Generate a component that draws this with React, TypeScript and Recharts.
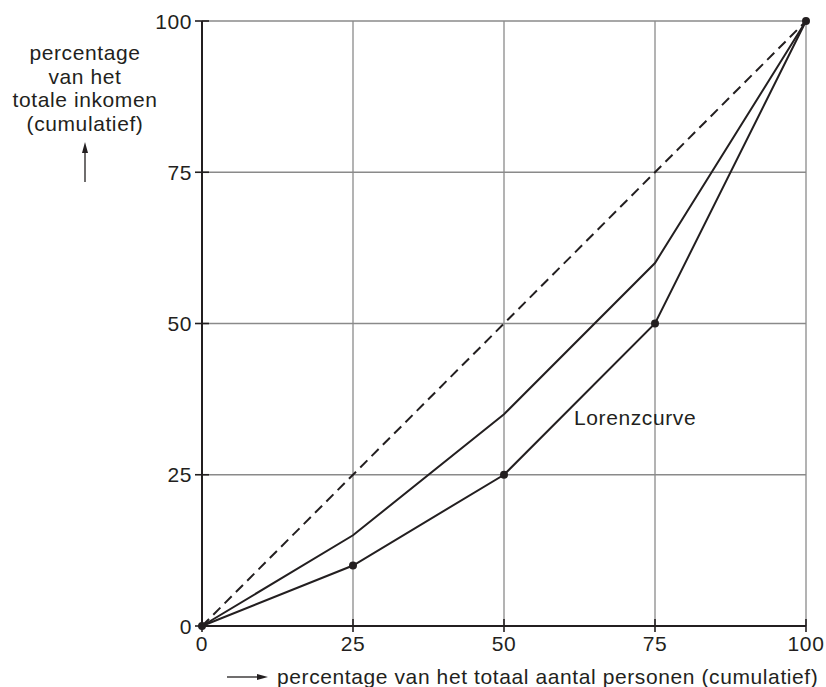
import React from "react";
import { LineChart, Line, XAxis, YAxis, CartesianGrid } from "recharts";

const persons = [0, 25, 50, 75, 100];
const equality = [0, 25, 50, 75, 100];
const upperCurve = [0, 15, 35, 60, 100];
const lorenzCurve = [0, 10, 25, 50, 100];
const ticks = [0, 25, 50, 75, 100];

const yLabelLines = ["percentage", "van het", "totale inkomen", "(cumulatief)"];
const xLabel = "percentage van het totaal aantal personen (cumulatief)";
const curveLabel = "Lorenzcurve";

const data = persons.map((p, i) => ({
  p,
  eq: equality[i],
  up: upperCurve[i],
  lz: lorenzCurve[i],
}));

const font = "'Liberation Sans', Arial, sans-serif";
const ink = "#231f20";
const fs = 21;
const ls = 0.6;

const YTick = (props: any) => {
  const { x, y, payload } = props;
  return (
    <g>
      <line x1={x - 7} x2={x + 7} y1={y} y2={y} stroke={ink} strokeWidth={1.6} />
      <text x={x - 10} y={y} dy="0.36em" textAnchor="end" fill={ink} fontSize={fs} fontFamily={font} letterSpacing={ls}>
        {payload.value}
      </text>
    </g>
  );
};

const XTick = (props: any) => {
  const { x, y, payload } = props;
  return (
    <g>
      <line x1={x} x2={x} y1={y - 7} y2={y + 6} stroke={ink} strokeWidth={1.6} />
      <text x={x} y={y + 24.5} textAnchor="middle" fill={ink} fontSize={fs} fontFamily={font} letterSpacing={ls}>
        {payload.value}
      </text>
    </g>
  );
};

export default function App() {
  return (
    <div style={{ position: "absolute", left: 0, top: 0, width: 826, height: 687, background: "#fff", fontFamily: font }}>
      <LineChart width={826} height={687} data={data} margin={{ top: 21, right: 20, left: 162, bottom: 31 }}>
        <CartesianGrid stroke="#8a8a8a" strokeWidth={1.3} horizontalValues={ticks} verticalValues={ticks} />
        <XAxis
          dataKey="p"
          type="number"
          domain={[0, 100]}
          ticks={ticks}
          height={30}
          tickSize={0}
          tickMargin={0}
          axisLine={{ stroke: ink, strokeWidth: 2 }}
          tickLine={false}
          tick={(p: any) => <XTick {...p} />}
        />
        <YAxis
          type="number"
          domain={[0, 100]}
          ticks={ticks}
          width={40}
          tickSize={0}
          tickMargin={0}
          axisLine={{ stroke: ink, strokeWidth: 2 }}
          tickLine={false}
          tick={(p: any) => <YTick {...p} />}
        />
        <Line dataKey="eq" stroke={ink} strokeWidth={2} strokeDasharray="10 6" dot={false} isAnimationActive={false} />
        <Line dataKey="up" stroke={ink} strokeWidth={2} dot={false} isAnimationActive={false} />
        <Line dataKey="lz" stroke={ink} strokeWidth={2} dot={{ r: 3, fill: ink, stroke: ink }} isAnimationActive={false} />
      </LineChart>
      <svg style={{ position: "absolute", left: 0, top: 0 }} width={826} height={687}>
        {yLabelLines.map((t, i) => (
          <text key={t} x={85} y={60 + i * 23.5} textAnchor="middle" fill={ink} fontSize={fs} fontFamily={font} letterSpacing={ls}>
            {t}
          </text>
        ))}
        <line x1={85} y1={182} x2={85} y2={150} stroke={ink} strokeWidth={1.3} />
        <polygon points="85,142 82,153 88,153" fill={ink} />
        <line x1={227} y1={677} x2={259} y2={677} stroke={ink} strokeWidth={1.3} />
        <polygon points="268,677 257,674 257,680" fill={ink} />
        <text x={277} y={684} fill={ink} fontSize={fs} fontFamily={font} letterSpacing={ls}>
          {xLabel}
        </text>
        <text x={574} y={425} fill={ink} fontSize={fs} fontFamily={font} letterSpacing={ls}>
          {curveLabel}
        </text>
      </svg>
    </div>
  );
}
